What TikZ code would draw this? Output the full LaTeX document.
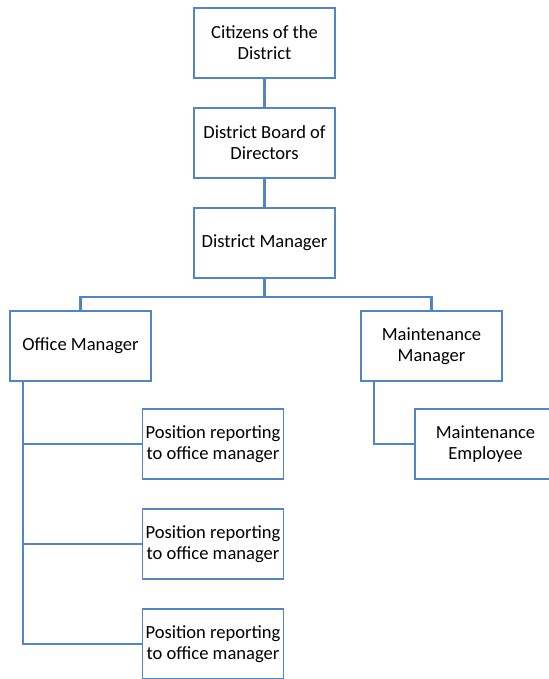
\documentclass[tikz,border=0pt]{standalone}
\usepackage{fontspec}
\setmainfont{Carlito}
\usetikzlibrary{positioning}
\definecolor{boxblue}{RGB}{84,132,200}
\begin{document}
\begin{tikzpicture}
  [unit/.style={rectangle,draw=boxblue,line width=1.4pt,fill=white,minimum width=3.525cm,minimum height=1.75cm,inner sep=1pt,align=center,font=\fontsize{13.2}{15}\selectfont},
  link/.style={draw=boxblue,line width=1.5pt}]
  \useasboundingbox (0,0) rectangle (13.7,-16.975);
  \node[unit] (cit) at (6.6125,-1.075) {Citizens of the\\District};
  \node[unit] (board) at (6.6125,-3.575) {District Board of\\Directors};
  \node[unit] (dm) at (6.6125,-6.075) {District Manager};

  \node[unit] (om) at (2.0125,-8.65) {Office Manager};
  \node[unit] (mm) at (10.7875,-8.65) {Maintenance\\Manager};

  \node[unit] (pos1) at (5.325,-11.1) {Position reporting\\to office manager};
  \node[unit] (pos2) at (5.325,-13.6) {Position reporting\\to office manager};
  \node[unit] (pos3) at (5.325,-16.1) {Position reporting\\to office manager};
  \node[unit] (me) at (12.1375,-11.1) {Maintenance\\Employee};

  \draw [link] (cit) -- (board);
  \draw [link] (board) -- (dm);
  \draw [link] (dm.south) -- ++(0,-0.45) -| (om.north);
  \draw [link] (dm.south) -- ++(0,-0.45) -| (mm.north);

  \draw [link] ([xshift=0.35cm]om.south west) |- (pos1.west);
  \draw [link] ([xshift=0.35cm]om.south west) |- (pos2.west);
  \draw [link] ([xshift=0.35cm]om.south west) |- (pos3.west);
  \draw [link] ([xshift=0.35cm]mm.south west) |- (me.west);
\end{tikzpicture}
\end{document}
